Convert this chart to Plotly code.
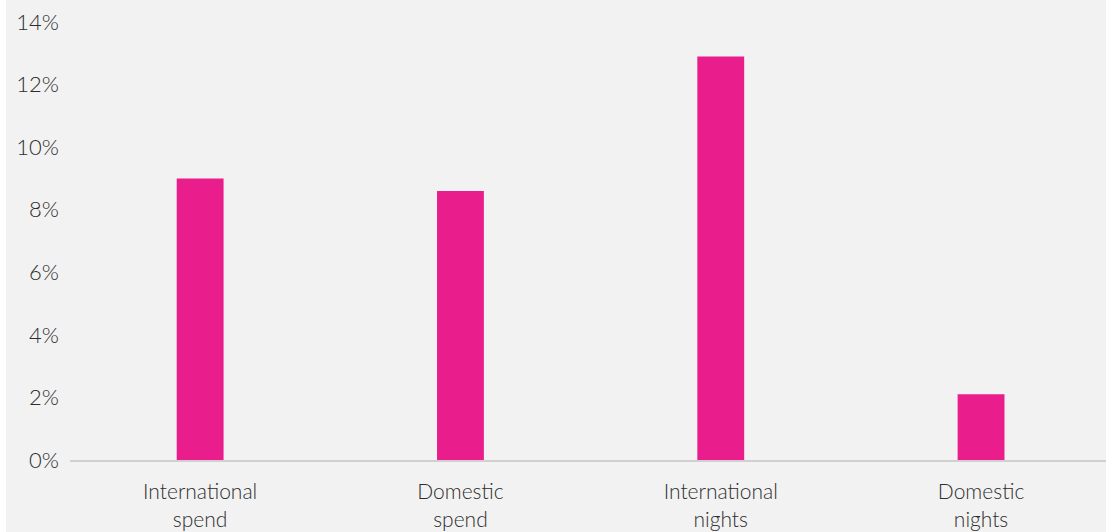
import plotly.graph_objects as go

categories = ["International<br>spend", "Domestic<br>spend", "International<br>nights", "Domestic<br>nights"]
values = [9.0, 8.6, 12.9, 2.1]
y_ticks = [0, 2, 4, 6, 8, 10, 12, 14]
y_tick_labels = ["0%", "2%", "4%", "6%", "8%", "10%", "12%", "14%"]

BAR_COLOR = "#E91E8C"
BG = "#F2F2F2"
TEXT = "#2E2E2E"
FONT = "Lato"

fig = go.Figure(
    go.Bar(
        x=categories,
        y=values,
        width=0.18,
        marker=dict(color=BAR_COLOR, line=dict(width=0)),
        hoverinfo="skip",
    )
)

W, H = 1106, 532
ML, MR, MT, MB = 70, 0, 22, 72

fig.update_layout(
    width=W,
    height=H,
    margin=dict(l=ML, r=MR, t=MT, b=MB),
    paper_bgcolor=BG,
    plot_bgcolor=BG,
    showlegend=False,
    font=dict(family=FONT, size=21, color=TEXT, weight=300),
    xaxis=dict(
        type="category",
        range=[-0.5, 3.48],
        showgrid=False,
        zeroline=False,
        showline=True,
        linecolor="#D0D0D0",
        linewidth=2,
        ticks="",
        ticklabelstandoff=12,
        tickfont=dict(family=FONT, size=21, color=TEXT, weight=300),
    ),
    yaxis=dict(
        range=[0, 14],
        tickvals=y_ticks,
        ticktext=y_tick_labels,
        showgrid=False,
        zeroline=False,
        showline=False,
        ticks="",
        ticklabelstandoff=10,
        tickfont=dict(family=FONT, size=22, color=TEXT, weight=300),
    ),
    shapes=[
        dict(
            type="rect", xref="paper", yref="paper",
            x0=-ML / (W - ML - MR), x1=-(ML - 6) / (W - ML - MR),
            y0=-MB / (H - MT - MB), y1=1 + MT / (H - MT - MB),
            fillcolor="white", line=dict(width=0), layer="below",
        )
    ],
)

fig.write_html(
    "out.html",
    config={"displayModeBar": False},
    post_script="document.body.style.margin='0';document.body.style.overflow='hidden';",
)
